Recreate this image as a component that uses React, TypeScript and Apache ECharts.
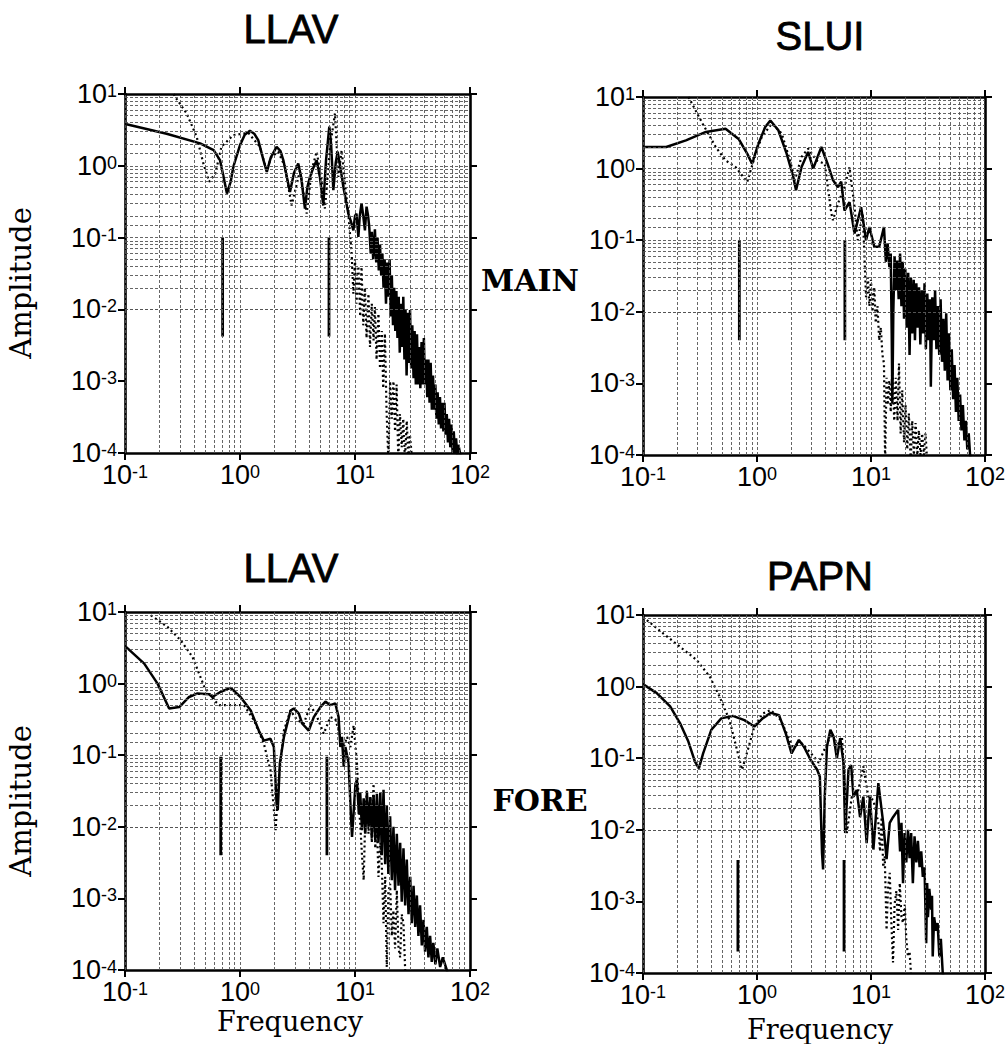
import React, { useEffect, useRef } from 'react';
import * as echarts from 'echarts';

type Pt = [number, number];

// ---- Panel titles / side labels ----
const panelTitles = ['LLAV', 'SLUI', 'LLAV', 'PAPN'];
const rowLabels = ['MAIN', 'FORE'];
const yAxisName = 'Amplitude';
const xAxisName = 'Frequency';

// ---- Axis ranges ----
const xRange: Pt = [0.1, 100];
const yRange: Pt = [0.0001, 10];
const xGridMultipliers = [1, 2, 3, 4, 5, 6, 7, 8, 9];
const yGridMultipliers = [1, 1.5, 2, 3, 4, 5, 6, 7, 8, 9];
const xDecades = [0.1, 1, 10];
const yDecades = [0.0001, 0.001, 0.01, 0.1, 1];

// ---- MAIN / LLAV ----
const mainLLAVSolid: Pt[] = [
  [0.103, 3.8], [0.23, 2.8], [0.45, 2.05], [0.59, 1.65], [0.67, 1.2], [0.72, 0.7], [0.77, 0.41], [0.83, 0.6],
  [0.875, 0.97], [1.0, 1.94], [1.1, 2.7], [1.22, 3.08], [1.33, 2.8], [1.44, 2.28], [1.6, 1.2], [1.71, 0.82],
  [1.85, 1.3], [2.08, 1.84], [2.25, 1.6], [2.38, 1.2], [2.72, 0.43], [2.95, 0.8], [3.21, 1.08], [3.4, 0.7],
  [3.67, 0.254], [3.85, 0.5], [4.06, 0.7], [4.3, 0.9], [4.64, 1.2], [4.95, 0.7], [5.3, 0.28], [5.6, 1.2],
  [5.98, 3.5], [6.2, 2.0], [6.48, 0.457], [6.8, 1.1], [7.07, 1.57], [7.5, 0.9], [7.92, 0.51], [8.75, 0.216],
  [9.2, 0.17], [9.68, 0.126], [10.0, 0.2], [10.3, 0.216], [10.7, 0.102], [11.0, 0.2], [11.4, 0.3], [11.8, 0.2],
  [12.2, 0.126], [12.6, 0.27], [13.0, 0.2], [13.3, 0.141], [13.7, 0.06], [14.0, 0.12], [14.4, 0.05],
  [14.9, 0.13], [15.3, 0.045], [15.7, 0.1], [16.1, 0.035], [16.5, 0.08], [16.9, 0.03], [17.3, 0.06],
  [17.7, 0.02], [18.1, 0.05], [18.6, 0.012], [19.0, 0.045], [19.5, 0.015], [20.0, 0.05], [20.4, 0.008],
  [20.9, 0.03], [21.4, 0.006], [21.9, 0.02], [22.4, 0.005], [22.9, 0.018], [23.4, 0.004], [24.0, 0.015],
  [24.5, 0.0025], [25.1, 0.012], [25.7, 0.003], [26.3, 0.015], [26.9, 0.002], [27.5, 0.01], [28.1, 0.0012],
  [28.8, 0.009], [29.4, 0.0018], [30.1, 0.0098], [30.8, 0.0015], [31.5, 0.006], [32.3, 0.0011], [33.0, 0.005],
  [33.8, 0.0009], [34.6, 0.0045], [35.4, 0.0009], [36.2, 0.003], [37.0, 0.0008], [37.9, 0.0035], [38.8, 0.0009],
  [39.7, 0.004], [40.6, 0.0009], [41.5, 0.002], [42.5, 0.0006], [43.5, 0.002], [44.5, 0.0005], [45.5, 0.0018],
  [46.6, 0.0004], [47.7, 0.0012], [48.8, 0.0004], [50, 0.0009], [51, 0.0003], [52.3, 0.0007], [53.5, 0.00025],
  [54.8, 0.0006], [56, 0.00022], [57.3, 0.0005], [58.7, 0.0002], [60, 0.0005], [61.4, 0.00018], [62.8, 0.00035],
  [64.3, 0.00014], [65.8, 0.0003], [67.4, 0.00012], [69, 0.00025], [70.6, 0.0001], [72.2, 0.0002],
  [74, 0.0001], [75.7, 0.00016], [77.5, 0.00009], [79.3, 0.00013], [81.8, 0.0001], [84, 0.00008],
];
const mainLLAVDotted: Pt[] = [
  [0.265, 10], [0.272, 9.2], [0.343, 5.4], [0.42, 2.54], [0.48, 1.08], [0.54, 0.6], [0.61, 0.78], [0.69, 1.84],
  [0.875, 2.68], [1.18, 2.88], [1.49, 1.84], [1.7, 0.87], [1.88, 1.34], [2.15, 1.57], [2.46, 0.97], [2.81, 0.28],
  [3.33, 0.87], [3.8, 0.216], [4.2, 0.87], [4.64, 1.57], [5.13, 0.63], [5.48, 0.254], [6.07, 1.84], [6.7, 5.37],
  [7.16, 0.7], [7.65, 1.65], [8.18, 0.57], [8.75, 0.216], [9.35, 0.06], [9.68, 0.0165], [10.0, 0.05],
  [10.3, 0.012], [10.7, 0.04], [11.1, 0.008], [11.4, 0.039], [11.8, 0.006], [12.2, 0.02], [12.6, 0.004],
  [13.1, 0.0165], [13.5, 0.003], [14.0, 0.012], [14.5, 0.0037], [14.9, 0.0108], [15.4, 0.002], [16.0, 0.0087],
  [16.5, 0.0015], [17.1, 0.005], [17.6, 0.0008], [18.2, 0.0046], [18.8, 0.0004], [19.5, 0.00008],
  [20.2, 0.001], [20.9, 0.0003], [21.6, 0.001], [22.3, 0.0002], [23.0, 0.0009], [23.8, 0.00008],
  [24.6, 0.00035], [25.5, 0.00012], [26.3, 0.0003], [27.2, 0.00008], [28.2, 0.00028], [29.1, 0.00008],
  [30, 0.00018], [31, 0.0001], [32.1, 0.00008],
];
const mainLLAVMarkers: [number, number, number][] = [
  [0.706, 0.1, 0.0042],
  [5.94, 0.1, 0.0042],
];

// ---- MAIN / SLUI ----
const mainSLUISolid: Pt[] = [
  [0.103, 2.0], [0.16, 2.0], [0.238, 2.48], [0.356, 3.25], [0.53, 3.6], [0.69, 2.6], [0.82, 1.62], [0.905, 1.17],
  [1.03, 2.23], [1.18, 3.8], [1.31, 4.7], [1.54, 3.43], [1.82, 1.62], [2.08, 0.77], [2.2, 0.5], [2.46, 1.05],
  [2.81, 1.71], [3.11, 1.0], [3.67, 2.0], [4.16, 1.17], [4.64, 0.69], [5.13, 0.55], [5.48, 0.66], [5.86, 0.26],
  [6.48, 0.34], [7.17, 0.124], [8.19, 0.29], [9.05, 0.1], [9.68, 0.153], [10.7, 0.081], [11.8, 0.081],
  [13, 0.153], [13.5, 0.05], [14, 0.09], [14.5, 0.042], [14.9, 0.065], [15.2, 0.005], [15.4, 0.00052],
  [15.7, 0.01], [16.1, 0.06], [16.5, 0.02], [17.0, 0.052], [17.5, 0.015], [18.0, 0.065], [18.5, 0.012],
  [19.0, 0.05], [19.5, 0.008], [20.0, 0.04], [20.6, 0.006], [21.2, 0.035], [21.8, 0.0025], [22.4, 0.03],
  [23.0, 0.005], [23.7, 0.028], [24.3, 0.004], [25.0, 0.025], [25.7, 0.006], [26.4, 0.022], [27.1, 0.0035],
  [27.9, 0.02], [28.7, 0.005], [29.5, 0.025], [30.3, 0.003], [31.2, 0.018], [32.0, 0.004], [32.9, 0.015],
  [33.5, 0.0009], [34.5, 0.016], [35.5, 0.004], [36.5, 0.02], [37.5, 0.003], [38.6, 0.012], [39.7, 0.0025],
  [40.8, 0.015], [42, 0.002], [43.2, 0.008], [44.4, 0.0015], [45.7, 0.0095], [47, 0.0011], [48.3, 0.005],
  [49.7, 0.0008], [51.1, 0.003], [52.6, 0.0006], [54.1, 0.0018], [55.6, 0.0004], [57.2, 0.0012],
  [58.8, 0.0003], [60.5, 0.0007], [62.2, 0.00022], [64, 0.0005], [66, 0.00016], [68, 0.0003], [70, 0.00012],
  [72, 0.0002], [74, 0.0001], [76, 0.00008],
];
const mainSLUIDotted: Pt[] = [
  [0.25, 10], [0.255, 9.5], [0.333, 4.25], [0.435, 2.0], [0.53, 1.3], [0.65, 1.05], [0.82, 0.65], [0.935, 1.3],
  [1.1, 2.77], [1.35, 4.25], [1.65, 3.08], [1.95, 1.3], [2.15, 0.69], [2.46, 1.46], [2.81, 1.9], [3.33, 1.3],
  [3.93, 1.17], [4.49, 0.236], [4.64, 0.19], [5.13, 0.325], [5.86, 0.55], [6.48, 1.05], [7.17, 0.29],
  [7.65, 0.1], [8.47, 0.236], [9.05, 0.016], [9.4, 0.03], [9.68, 0.012], [10.0, 0.028], [10.3, 0.01],
  [10.7, 0.022], [11.0, 0.007], [11.4, 0.012], [11.8, 0.004], [12.2, 0.006], [12.6, 0.0025], [13, 0.0019],
  [13.3, 0.00008], [13.7, 0.0012], [14, 0.0005], [14.5, 0.0011], [14.9, 0.0004], [15.4, 0.0017], [16.0, 0.0003],
  [16.5, 0.0012], [17.1, 0.0003], [17.6, 0.0019], [18.2, 0.0002], [18.8, 0.0008], [19.5, 0.00015],
  [20.1, 0.0005], [20.8, 0.00012], [21.5, 0.00038], [22.3, 0.00008], [23.0, 0.0003], [23.8, 0.0001],
  [24.6, 0.00028], [25.5, 0.0001], [26.3, 0.00022], [27.2, 0.0001], [28.1, 0.0002], [29.1, 0.0001],
  [30.1, 0.0002], [31.1, 0.00008],
];
const mainSLUIMarkers: [number, number, number][] = [
  [0.7, 0.1, 0.004],
  [5.9, 0.1, 0.004],
];

// ---- FORE / LLAV ----
const foreLLAVSolid: Pt[] = [
  [0.102, 3.25], [0.147, 1.9], [0.192, 1.0], [0.242, 0.45], [0.296, 0.47], [0.361, 0.65], [0.427, 0.73],
  [0.54, 0.71], [0.575, 0.65], [0.68, 0.77], [0.83, 0.87], [1.01, 0.65], [1.24, 0.42], [1.46, 0.22], [1.61, 0.16],
  [1.84, 0.17], [1.97, 0.13], [2.08, 0.021], [2.13, 0.017], [2.22, 0.077], [2.41, 0.18], [2.75, 0.42],
  [2.94, 0.45], [3.25, 0.38], [3.47, 0.277], [3.96, 0.22], [4.38, 0.34], [5.0, 0.47], [5.53, 0.56], [6.1, 0.5],
  [6.75, 0.53], [7.2, 0.34], [7.46, 0.13], [7.7, 0.18], [7.98, 0.069], [8.25, 0.13], [8.8, 0.077], [9.12, 0.021],
  [9.42, 0.0072], [10.1, 0.04], [10.4, 0.045], [10.8, 0.015], [11.1, 0.03], [11.5, 0.009], [11.9, 0.025],
  [12.3, 0.008], [12.7, 0.03], [13.1, 0.01], [13.6, 0.026], [14.0, 0.007], [14.5, 0.028], [15.0, 0.0065],
  [15.5, 0.029], [16.0, 0.006], [16.6, 0.03], [17.1, 0.004], [17.7, 0.033], [18.3, 0.003], [18.9, 0.02],
  [19.5, 0.0022], [20.2, 0.014], [20.9, 0.0018], [21.6, 0.01], [22.3, 0.0013], [23.1, 0.008], [23.9, 0.0015],
  [24.7, 0.006], [25.5, 0.0009], [26.4, 0.005], [27.3, 0.0008], [28.2, 0.0035], [29.2, 0.0006], [30.2, 0.002],
  [31.2, 0.00045], [32.3, 0.0015], [33.4, 0.0004], [34.5, 0.0011], [35.6, 0.0003], [36.8, 0.0008],
  [38.1, 0.00022], [39.4, 0.0005], [40.7, 0.00018], [42.1, 0.0004], [43.5, 0.00015], [45, 0.0003],
  [46.5, 0.00013], [48, 0.00024], [50, 0.00012], [52, 0.0002], [55, 0.00011], [58, 0.00015], [62.8, 0.0001],
  [65, 0.00008],
];
const foreLLAVDotted: Pt[] = [
  [0.168, 9.0], [0.234, 6.2], [0.306, 4.0], [0.386, 2.36], [0.49, 0.9], [0.6, 0.58], [0.66, 0.5], [0.89, 0.5],
  [1.08, 0.5], [1.32, 0.31], [1.61, 0.146], [1.84, 0.062], [2.04, 0.009], [2.18, 0.05], [2.41, 0.22],
  [2.75, 0.42], [3.14, 0.31], [3.59, 0.277], [4.1, 0.5], [4.69, 0.34], [5.35, 0.2], [6.1, 0.34], [6.75, 0.32],
  [7.46, 0.18], [7.98, 0.13], [8.53, 0.18], [9.12, 0.13], [9.73, 0.26], [10.4, 0.077], [10.8, 0.02],
  [11.1, 0.011], [11.5, 0.004], [11.9, 0.0018], [12.3, 0.015], [12.7, 0.033], [13.1, 0.008], [13.6, 0.026],
  [14.0, 0.006], [14.5, 0.04], [15.0, 0.005], [15.5, 0.011], [16.0, 0.002], [16.6, 0.006], [17.1, 0.003],
  [17.7, 0.00045], [18.3, 0.002], [18.9, 0.00011], [19.5, 0.0012], [20.2, 0.0016], [20.9, 0.0003],
  [21.6, 0.00068], [22.3, 0.0002], [23.1, 0.0013], [23.9, 0.0002], [24.7, 0.00015], [25.5, 0.0006],
  [26.4, 0.00045], [27.3, 0.0001], [28.2, 0.00008],
];
const foreLLAVMarkers: [number, number, number][] = [
  [0.68, 0.095, 0.004],
  [5.7, 0.095, 0.004],
];

// ---- FORE / PAPN ----
const forePAPNSolid: Pt[] = [
  [0.103, 1.05], [0.132, 0.81], [0.173, 0.53], [0.211, 0.31], [0.25, 0.171], [0.285, 0.09], [0.309, 0.072],
  [0.337, 0.117], [0.398, 0.25], [0.486, 0.36], [0.614, 0.39], [0.775, 0.34], [0.948, 0.277], [1.12, 0.36],
  [1.32, 0.43], [1.56, 0.4], [1.79, 0.22], [2.01, 0.117], [2.33, 0.18], [2.58, 0.145], [2.95, 0.095],
  [3.37, 0.069], [3.56, 0.055], [3.72, 0.0047], [3.8, 0.0028], [3.93, 0.029], [4.11, 0.145], [4.4, 0.25],
  [4.7, 0.2], [5.02, 0.1], [5.37, 0.19], [5.74, 0.086], [5.94, 0.009], [6.35, 0.069], [6.7, 0.08], [7.02, 0.029],
  [7.5, 0.036], [8.02, 0.015], [8.57, 0.029], [9.16, 0.0065], [9.79, 0.029], [10.5, 0.0053], [11.6, 0.045],
  [12.8, 0.0125], [13.7, 0.0039], [14.6, 0.0125], [15.6, 0.015], [17.3, 0.019], [18.0, 0.005], [18.5, 0.0125],
  [19.1, 0.0018], [19.7, 0.009], [20.4, 0.0035], [21.1, 0.01], [21.8, 0.004], [22.5, 0.009], [23.3, 0.0018],
  [24.1, 0.0081], [25, 0.0035], [25.8, 0.007], [26.7, 0.003], [27.6, 0.005], [28.5, 0.0022], [29.5, 0.003],
  [30.5, 0.00026], [31.1, 0.0018], [31.6, 0.0006], [32.5, 0.0015], [33.7, 0.00077], [34.3, 0.0012],
  [34.8, 0.00017], [35.8, 0.0006], [37.2, 0.00039], [38.4, 0.0005], [39.8, 0.00017], [41, 0.0003],
  [42.6, 0.0001], [44, 0.00008],
];
const forePAPNDotted: Pt[] = [
  [0.108, 8.5], [0.151, 5.5], [0.211, 3.6], [0.295, 2.36], [0.385, 1.38], [0.47, 0.72], [0.574, 0.34],
  [0.656, 0.146], [0.74, 0.069], [0.83, 0.13], [0.948, 0.277], [1.12, 0.42], [1.32, 0.47], [1.62, 0.34],
  [2.04, 0.146], [2.49, 0.16], [3.16, 0.105], [3.48, 0.086], [4.11, 0.16], [4.55, 0.22], [5.02, 0.146],
  [5.56, 0.2], [5.94, 0.036], [6.14, 0.009], [6.79, 0.029], [7.76, 0.036], [8.57, 0.077], [9.48, 0.029],
  [10.5, 0.026], [11.6, 0.0125], [12.0, 0.005], [12.4, 0.015], [12.8, 0.003], [13.2, 0.0043], [13.7, 0.0004],
  [14.1, 0.0015], [14.6, 0.0025], [15.1, 0.0005], [15.6, 0.00014], [16.1, 0.0009], [16.7, 0.0014],
  [17.3, 0.0004], [17.9, 0.0018], [18.5, 0.0006], [19.1, 0.0005], [19.8, 0.0009], [20.4, 0.0003],
  [21.1, 0.00017], [21.8, 0.0002], [22.6, 0.00008],
];
const forePAPNMarkers: [number, number, number][] = [
  [0.68, 0.0038, 0.0002],
  [5.8, 0.0038, 0.0002],
];

const panelSolid = [mainLLAVSolid, mainSLUISolid, foreLLAVSolid, forePAPNSolid];
const panelDotted = [mainLLAVDotted, mainSLUIDotted, foreLLAVDotted, forePAPNDotted];
const panelMarkers = [mainLLAVMarkers, mainSLUIMarkers, foreLLAVMarkers, forePAPNMarkers];

// layout (pixels)
const gridBoxes = [
  { left: 125, top: 94, width: 345, height: 359 },
  { left: 643, top: 97, width: 345, height: 358 },
  { left: 125, top: 612, width: 345, height: 358 },
  { left: 643, top: 615, width: 344, height: 358 },
];
const titlePos = [[291, 29], [820, 36], [291, 568], [820, 576]];
const rowLabelPos = [[530, 280], [540, 800]];
const ampPos = [[21, 283], [21, 801]];
const freqPos = [[290, 1021], [820, 1029]];

const SANS = '"Liberation Sans", Arial, Helvetica, sans-serif';
const NARROW = '"Liberation Sans Narrow", "Liberation Sans", Arial, sans-serif';
const SERIF = '"DejaVu Serif", "Liberation Serif", serif';

const labelRich = {
  b: { fontSize: 27, fontFamily: NARROW, color: '#000', lineHeight: 24 },
  s: { fontSize: 18, fontFamily: NARROW, color: '#000', lineHeight: 13, verticalAlign: 'top' as const },
};
const expLabel = (v: number) => `{b|10}{s|${Math.round(Math.log10(v))}}`;

const round3 = (v: number) => Number(v.toPrecision(3));

function buildOption() {
  const grid: any[] = [];
  const xAxis: any[] = [];
  const yAxis: any[] = [];
  const series: any[] = [];
  const axisLine = { show: true, onZero: false, lineStyle: { color: '#000', width: 2.6 } };
  const tick = { show: true, inside: false, length: 7, lineStyle: { color: '#000', width: 2 } };

  const xGrid = xDecades.flatMap((d) => xGridMultipliers.map((m) => round3(d * m)));
  const yGrid = yDecades.flatMap((d) => yGridMultipliers.map((m) => round3(d * m)));

  gridBoxes.forEach((g, i) => {
    grid.push({ ...g, containLabel: false });
    xAxis.push({
      gridIndex: i, type: 'log', logBase: 10, min: xRange[0], max: xRange[1], position: 'bottom',
      axisLine, axisTick: tick, splitLine: { show: false },
      axisLabel: { show: true, margin: 10, formatter: expLabel, rich: labelRich, showMinLabel: true, showMaxLabel: true },
    });
    xAxis.push({
      gridIndex: i, type: 'log', logBase: 10, min: xRange[0], max: xRange[1], position: 'top',
      axisLine, axisTick: tick, splitLine: { show: false }, axisLabel: { show: false },
    });
    yAxis.push({
      gridIndex: i, type: 'log', logBase: 10, min: yRange[0], max: yRange[1], position: 'left',
      axisLine, axisTick: tick, splitLine: { show: false },
      axisLabel: { show: true, margin: 8, formatter: expLabel, rich: labelRich, showMinLabel: true, showMaxLabel: true },
    });
    yAxis.push({
      gridIndex: i, type: 'log', logBase: 10, min: yRange[0], max: yRange[1], position: 'right',
      axisLine, axisTick: tick, splitLine: { show: false }, axisLabel: { show: false },
    });
    const xi = i * 2;
    const yi = i * 2;
    series.push({
      type: 'line', xAxisIndex: xi, yAxisIndex: yi, data: [[1, 1]], symbol: 'none', silent: true, z: 1,
      lineStyle: { width: 0, opacity: 0 },
      markLine: {
        silent: true, symbol: ['none', 'none'], label: { show: false }, animation: false,
        lineStyle: { color: '#555', type: [3, 2], width: 0.9 },
        emphasis: { disabled: true },
        data: [...xGrid.map((v) => ({ xAxis: v })), ...yGrid.map((v) => ({ yAxis: v }))],
      },
    });
    series.push({
      type: 'line', xAxisIndex: xi, yAxisIndex: yi, data: panelDotted[i], symbol: 'none', z: 3,
      lineStyle: { color: '#000', width: 2.2, type: [2, 3] }, clip: true,
    });
    series.push({
      type: 'line', xAxisIndex: xi, yAxisIndex: yi, data: panelSolid[i], symbol: 'none', z: 4,
      lineStyle: { color: '#000', width: 2.5 }, clip: true,
    });
    panelMarkers[i].forEach((m) => {
      series.push({
        type: 'line', xAxisIndex: xi, yAxisIndex: yi, data: [[m[0], m[1]], [m[0], m[2]]], symbol: 'none', z: 4,
        lineStyle: { color: '#000', width: 2.8 },
      });
    });
  });

  const graphic: any[] = [];
  panelTitles.forEach((t, i) => {
    graphic.push({
      type: 'text', x: titlePos[i][0], y: titlePos[i][1],
      style: {
        text: t, fontSize: 40, fontFamily: SANS, fill: '#000', stroke: '#000', lineWidth: 0.8,
        textAlign: 'center', textVerticalAlign: 'middle',
      },
    });
  });
  rowLabels.forEach((t, i) => {
    graphic.push({
      type: 'text', x: rowLabelPos[i][0], y: rowLabelPos[i][1],
      style: { text: t, fontSize: 30, fontWeight: 'bold', fontFamily: SERIF, fill: '#000', textAlign: 'center', textVerticalAlign: 'middle' },
    });
  });
  ampPos.forEach((p) => {
    graphic.push({
      type: 'text', x: p[0], y: p[1], rotation: Math.PI / 2,
      style: { text: yAxisName, fontSize: 29, fontFamily: SERIF, fill: '#000', textAlign: 'center', textVerticalAlign: 'middle' },
    });
  });
  freqPos.forEach((p) => {
    graphic.push({
      type: 'text', x: p[0], y: p[1],
      style: { text: xAxisName, fontSize: 27, fontFamily: SERIF, fill: '#000', textAlign: 'center', textVerticalAlign: 'middle' },
    });
  });

  return { animation: false, backgroundColor: '#fff', grid, xAxis, yAxis, series, graphic };
}

export default function App() {
  const ref = useRef<HTMLDivElement>(null);
  useEffect(() => {
    if (!ref.current) return;
    const chart = echarts.init(ref.current, undefined, { renderer: 'svg' });
    chart.setOption(buildOption() as any);
    return () => chart.dispose();
  }, []);
  return (
    <div
      ref={ref}
      style={{ position: 'fixed', left: 0, top: 0, width: 1008, height: 1044, background: '#fff' }}
    />
  );
}
